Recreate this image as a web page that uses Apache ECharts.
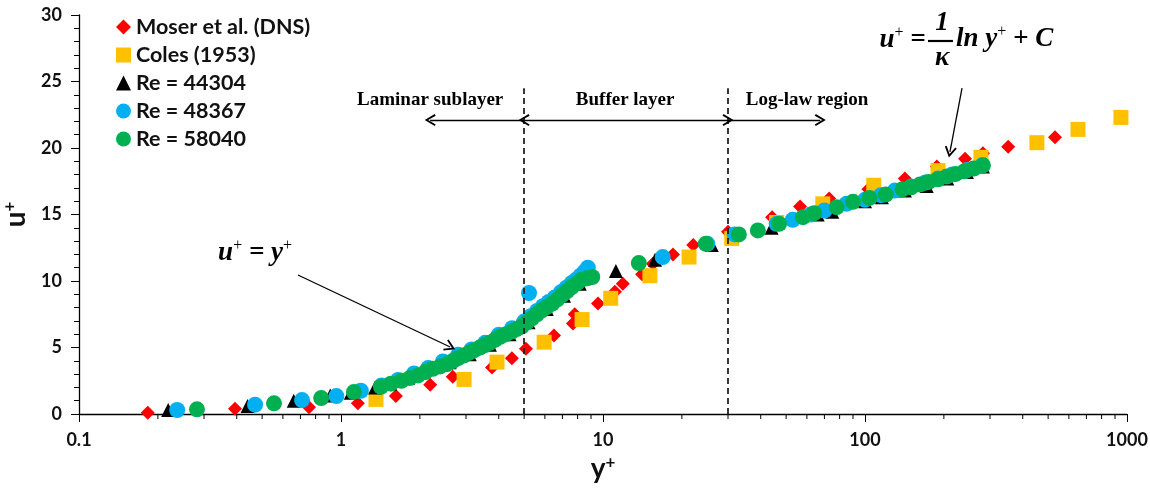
<!DOCTYPE html>
<html>
<head>
<meta charset="utf-8">
<script src="https://cdn.jsdelivr.net/npm/echarts@6/dist/echarts.min.js"></script>
<style>
  html, body { margin: 0; padding: 0; background: #fff; }
  #chart { width: 1150px; height: 490px; }
</style>
</head>
<body>
<div id="chart"></div>
<script>
// values (y+ on a log axis, u+ linear)
const moserX = [0.183, 0.394, 0.755, 1.16, 1.62, 2.19, 2.67, 3.77, 4.49, 5.08, 6.5, 7.68, 7.8, 9.57, 11.1, 11.9, 14.1, 15.5, 18.5, 22.1, 30, 44.2, 56.5, 73, 103, 142, 188, 241, 282, 352, 531]
const moserY = [0.1, 0.4, 0.5, 0.8, 1.35, 2.2, 2.8, 3.5, 4.2, 4.9, 5.9, 6.8, 7.5, 8.3, 9.2, 9.8, 10.5, 11.3, 12.0, 12.7, 13.7, 14.8, 15.6, 16.2, 16.9, 17.7, 18.6, 19.2, 19.6, 20.1, 20.8]

const colesX = [1.36, 2.95, 3.94, 5.96, 8.32, 10.7, 15.1, 21.3, 31, 46, 69, 108, 190, 277, 453, 650, 948]
const colesY = [1.1, 2.6, 3.9, 5.4, 7.1, 8.7, 10.4, 11.8, 13.2, 14.4, 15.8, 17.2, 18.3, 19.3, 20.4, 21.4, 22.3]

const re44304X = [0.219, 0.44, 0.66, 0.91, 1.09, 1.35, 1.54, 1.8, 2.19, 2.6, 3.1, 3.7, 4.4, 5.2, 6.1, 7.1, 8.15, 11.2, 15.8, 26, 44, 66, 75, 100, 116, 142, 172, 206, 245, 282]
const re44304Y = [0.3, 0.6, 1.0, 1.4, 1.6, 2.0, 2.3, 2.7, 3.5, 3.9, 4.5, 5.2, 6.0, 6.9, 7.9, 8.9, 9.8, 10.75, 11.6, 12.7, 14.0, 15.0, 15.2, 16.0, 16.3, 16.8, 17.15, 17.7, 18.2, 18.6]

const re48367X = [0.237, 0.47, 0.71, 0.96, 1.19, 1.43, 1.65, 1.9, 2.15, 2.45, 2.8, 3.15, 3.55, 4.0, 4.5, 5.22, 5.0, 5.3, 5.6, 5.9, 6.2, 6.55, 6.9, 7.25, 7.6, 7.9, 8.2, 8.5, 8.75, 16.9, 25, 31.8, 46, 53, 62, 70, 85, 100, 115, 130, 150, 170, 190, 215, 245, 280]
const re48367Y = [0.3, 0.7, 1.05, 1.35, 1.75, 2.15, 2.55, 3.05, 3.45, 3.95, 4.45, 4.85, 5.35, 5.95, 6.45, 9.1, 6.95, 7.35, 7.75, 8.1, 8.42, 8.76, 9.15, 9.5, 9.85, 10.1, 10.4, 10.7, 11.0, 11.8, 12.8, 13.5, 14.3, 14.6, 15.0, 15.3, 15.8, 16.1, 16.45, 16.8, 17.1, 17.4, 17.7, 18.0, 18.35, 18.7]

const re58040X = [0.282, 0.555, 0.84, 1.12, 1.42, 1.55, 1.7, 1.83, 1.97, 2.1, 2.24, 2.39, 2.54, 2.67, 2.8, 2.94, 3.08, 3.23, 3.39, 3.55, 3.7, 3.87, 4.05, 4.27, 4.49, 4.7, 4.91, 5.13, 5.36, 5.6, 5.85, 6.12, 6.4, 6.7, 7.0, 7.3, 7.6, 7.95, 8.3, 8.7, 9.1, 13.7, 24.7, 33, 39, 47, 58, 64, 78, 90, 104, 120, 139, 150, 162, 175, 190, 205, 222, 240, 260, 282]
const re58040Y = [0.35, 0.8, 1.2, 1.65, 2.05, 2.28, 2.5, 2.7, 2.9, 3.15, 3.4, 3.58, 3.75, 3.98, 4.2, 4.4, 4.6, 4.8, 5.0, 5.18, 5.35, 5.58, 5.8, 6.0, 6.2, 6.4, 6.6, 6.9, 7.2, 7.5, 7.8, 8.05, 8.3, 8.62, 8.95, 9.25, 9.55, 9.82, 10.1, 10.2, 10.3, 11.35, 12.8, 13.5, 13.8, 14.3, 14.8, 15.1, 15.55, 15.95, 16.25, 16.5, 16.9, 17.05, 17.25, 17.45, 17.65, 17.85, 18.05, 18.25, 18.45, 18.7]

const seriesNames = ['Moser et al. (DNS)', 'Coles (1953)', 'Re = 44304', 'Re = 48367', 'Re = 58040']
const xTicks = [0.1, 1, 10, 100, 1000]
const xMinorTicks = [0.2, 0.3, 0.4, 0.5, 0.6, 0.7, 0.8, 0.9, 2, 3, 4, 5, 6, 7, 8, 9, 20, 30, 40, 50, 60, 70, 80, 90, 200, 300, 400, 500, 600, 700, 800, 900]
const yTicks = [0, 5, 10, 15, 20, 25, 30]
// borders between the wall regions, y+
const regionBounds = [5, 30]

const zip = (xs, ys) => xs.map((x, i) => [x, ys[i]])

const sans = 'Lato, "Open Sans", sans-serif'
const serif = '"Liberation Serif", "DejaVu Serif", serif'
const chevron = 'path://M0,0 L10,16 L7.4,17.6 L0,5.6 L-7.4,17.6 L-10,16 Z'

const mathRich = {
  i: { fontFamily: serif, fontStyle: 'italic', fontWeight: 'bold', fontSize: 27, lineHeight: 30, color: '#000' },
  s: { fontFamily: serif, fontSize: 16, lineHeight: 16, verticalAlign: 'top', color: '#000' }
}

function textPoint(coord, formatter, style) {
  return {
    coord,
    symbol: 'circle',
    symbolSize: 1,
    itemStyle: { color: 'rgba(0,0,0,0)' },
    label: Object.assign({ show: true, position: 'inside', formatter, color: '#000' }, style)
  }
}

const regionStyle = { fontFamily: serif, fontWeight: 'bold', fontSize: 19 }
const arrowY = 22.1
const arrowEnd = (c) => ({ coord: c, symbol: chevron, symbolSize: [12, 11] })
const plainEnd = (c) => ({ coord: c, symbol: 'none' })
const dashed = { type: [6, 4], width: 1.8, color: '#222' }

const nameRich = {
  b: { fontFamily: sans, fontWeight: 'bold', fontSize: 28, lineHeight: 30, color: '#111' },
  s: { fontFamily: sans, fontWeight: 'bold', fontSize: 17, lineHeight: 17, verticalAlign: 'top', color: '#111' }
}

const chart = echarts.init(document.getElementById('chart'))

chart.setOption({
  animation: false,
  backgroundColor: '#fff',
  grid: { left: 79, right: 23, top: 15, bottom: 76, outerBoundsMode: 'none' },
  legend: {
    data: seriesNames,
    orient: 'vertical',
    left: 116,
    top: 16,
    padding: 0,
    itemGap: 6,
    itemWidth: 15,
    itemHeight: 15,
    textStyle: { fontFamily: sans, fontWeight: 'bold', fontSize: 21.5, lineHeight: 22, color: '#111' }
  },
  xAxis: {
    type: 'log',
    logBase: 10,
    min: xTicks[0],
    max: xTicks[xTicks.length - 1],
    name: '{b|y}{s|+}',
    nameLocation: 'middle',
    nameGap: 36,
    nameTextStyle: { rich: nameRich },
    splitLine: { show: false },
    axisLine: { lineStyle: { color: '#000', width: 1.3 } },
    axisTick: { length: 8, lineStyle: { color: '#000' } },
    axisLabel: {
      margin: 17,
      fontFamily: sans, fontWeight: 'bold', fontSize: 18, color: '#111',
      formatter: (v) => (v < 1 ? v.toFixed(1) : String(Math.round(v)))
    }
  },
  yAxis: {
    type: 'value',
    min: yTicks[0],
    max: yTicks[yTicks.length - 1],
    interval: yTicks[1] - yTicks[0],
    name: '{b|u}{s|+}',
    nameLocation: 'middle',
    nameGap: 41,
    nameTextStyle: { rich: nameRich },
    splitLine: { show: false },
    axisLine: { show: true, lineStyle: { color: '#000', width: 1.3 } },
    axisTick: { show: true, length: 8, lineStyle: { color: '#000' } },
    minorTick: { show: true, splitNumber: 5, length: 5, lineStyle: { color: '#000' } },
    axisLabel: { margin: 17, fontFamily: sans, fontWeight: 'bold', fontSize: 18, color: '#111' }
  },
  series: [
    {
      name: seriesNames[0], type: 'scatter', symbol: 'diamond', symbolSize: 14,
      itemStyle: { color: '#FF0000', opacity: 1 }, data: zip(moserX, moserY)
    },
    {
      name: seriesNames[1], type: 'scatter', symbol: 'rect', symbolSize: 15,
      itemStyle: { color: '#FFC000', opacity: 1 }, data: zip(colesX, colesY)
    },
    {
      name: seriesNames[2], type: 'scatter', symbol: 'triangle', symbolSize: 14,
      itemStyle: { color: '#000000', opacity: 1 }, data: zip(re44304X, re44304Y)
    },
    {
      name: seriesNames[3], type: 'scatter', symbol: 'circle', symbolSize: 16,
      itemStyle: { color: '#00B0F0', opacity: 1 }, data: zip(re48367X, re48367Y)
    },
    {
      name: seriesNames[4], type: 'scatter', symbol: 'circle', symbolSize: 16,
      itemStyle: { color: '#00B050', opacity: 1 }, data: zip(re58040X, re58040Y)
    },
    {
      // minor ticks of the log axis (2..9 in every decade)
      type: 'custom',
      silent: true,
      z: 5,
      data: xMinorTicks.map(v => [v, 0]),
      renderItem: (params, api) => {
        const p = api.coord([api.value(0), 0])
        return {
          type: 'line',
          shape: { x1: p[0], y1: p[1], x2: p[0], y2: p[1] + 5 },
          style: { stroke: '#000', lineWidth: 1 }
        }
      }
    },
    {
      // annotations: region borders, arrows and formulas
      type: 'scatter',
      silent: true,
      data: [],
      markLine: {
        silent: true,
        animation: false,
        label: { show: false },
        lineStyle: { color: '#000', width: 1.3, type: 'solid' },
        emphasis: { disabled: true },
        data: [
          [{ coord: [regionBounds[0], 0], symbol: 'none', lineStyle: dashed }, plainEnd([regionBounds[0], 24.5])],
          [{ coord: [regionBounds[1], 0], symbol: 'none', lineStyle: dashed }, plainEnd([regionBounds[1], 24.5])],
          [plainEnd([regionBounds[0], arrowY]), arrowEnd([2.19, arrowY])],
          [arrowEnd([regionBounds[0], arrowY]), arrowEnd([regionBounds[1], arrowY])],
          [plainEnd([regionBounds[1], arrowY]), arrowEnd([67.5, arrowY])],
          [plainEnd([0.685, 10.45]), arrowEnd([2.61, 5.04])],
          [plainEnd([234.6, 24.5]), arrowEnd([211, 19.7])],
          [{ coord: [174, 28.05], symbol: 'none', lineStyle: { width: 2.2 } }, plainEnd([216.6, 28.05])]
        ]
      },
      markPoint: {
        silent: true,
        animation: false,
        data: [
          textPoint([2.19, 23.6], 'Laminar sublayer', regionStyle),
          textPoint([12.15, 23.6], 'Buffer layer', regionStyle),
          textPoint([60.1, 23.6], 'Log-law region', regionStyle),
          textPoint([0.47, 12.1], '{i|u}{s|+}{i| = y}{s|+}', { rich: mathRich }),
          textPoint([139, 28.1], '{i|u}{s|+}{i| =}', { rich: mathRich }),
          textPoint([196.8, 29.4], '{i|1}', { rich: mathRich }),
          textPoint([196.8, 26.8], '{i|κ}', { rich: mathRich }),
          textPoint([341, 28.2], '{i|ln y}{s|+}{i| + C}', { rich: mathRich })
        ]
      }
    }
  ]
})
</script>
</body>
</html>
